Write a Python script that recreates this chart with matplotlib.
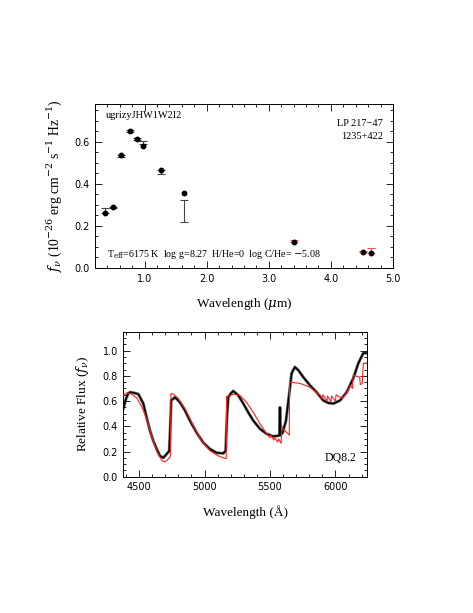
import numpy as np
import matplotlib
matplotlib.use("Agg")
import matplotlib.pyplot as plt
from matplotlib.ticker import MultipleLocator

# photometry (top panel)
phot_wl = [0.36, 0.49, 0.627, 0.762, 0.875, 0.973, 1.26, 1.64]
phot_obs = [0.274, 0.288, 0.533, 0.652, 0.615, 0.597, 0.456, 0.270]
phot_err = [0.011, 0.003, 0.006, 0.004, 0.005, 0.007, 0.009, 0.052]
phot_model = [0.261, 0.288, 0.539, 0.654, 0.616, 0.582, 0.468, 0.356]

ir_wl = [3.40, 4.52, 4.65]
ir_obs = [0.127, 0.080, 0.083]
ir_err = [0.004, 0.003, 0.011]
ir_model = [0.124, 0.075, 0.071]

# spectrum (bottom panel)
spec_wl = [4379, 4400, 4417, 4430, 4460, 4494, 4532, 4557, 4583, 4608, 4634, 4659,
           4685, 4710, 4730, 4738, 4745, 4774, 4812, 4850, 4888, 4939, 4990, 5041,
           5092, 5143, 5161, 5170, 5181, 5200, 5219, 5258, 5296, 5334, 5372, 5423,
           5474, 5525, 5563, 5572, 5576, 5580, 5597, 5622, 5647, 5665, 5690, 5716,
           5754, 5805, 5856, 5907, 5946, 5984, 6035, 6086, 6136, 6175, 6213, 6239]
spec_flux = [0.54, 0.62, 0.66, 0.67, 0.665, 0.655, 0.58, 0.47, 0.365, 0.285, 0.22, 0.165,
             0.15, 0.18, 0.205, 0.40, 0.605, 0.63, 0.59, 0.525, 0.445, 0.35, 0.27, 0.22,
             0.19, 0.185, 0.205, 0.45, 0.63, 0.66, 0.68, 0.645, 0.58, 0.51, 0.445, 0.38,
             0.34, 0.32, 0.325, 0.33, 0.55, 0.33, 0.35, 0.445, 0.66, 0.82, 0.87, 0.845,
             0.79, 0.725, 0.67, 0.605, 0.585, 0.58, 0.605, 0.67, 0.78, 0.90, 0.98, 0.98]

model_wl = [4379, 4405, 4443, 4481, 4519, 4557, 4595, 4634, 4672, 4697, 4723, 4735,
            4740, 4743, 4761, 4799, 4850, 4914, 4977, 5041, 5105, 5156, 5165, 5168,
            5199, 5219, 5270, 5321, 5372, 5423, 5474, 5500, 5505, 5530, 5535, 5560,
            5565, 5585, 5590, 5600, 5647, 5650, 5729, 5805, 5882, 5900, 5905, 5935,
            5940, 5965, 5970, 6000, 6005, 6050, 6086, 6116, 6130, 6136, 6185, 6190,
            6205, 6213, 6239]
model_flux = [0.645, 0.665, 0.655, 0.625, 0.557, 0.46, 0.325, 0.205, 0.13, 0.117, 0.14, 0.155,
              0.17, 0.66, 0.655, 0.62, 0.54, 0.405, 0.285, 0.205, 0.165, 0.145, 0.145, 0.637,
              0.645, 0.655, 0.645, 0.59, 0.51, 0.42, 0.34, 0.31, 0.33, 0.29, 0.31, 0.275,
              0.30, 0.265, 0.40, 0.38, 0.33, 0.75, 0.74, 0.71, 0.645, 0.62, 0.65, 0.60,
              0.64, 0.595, 0.64, 0.60, 0.65, 0.62, 0.665, 0.725, 0.70, 0.805, 0.79, 0.73,
              0.74, 0.90, 0.90]

serif = "Liberation Serif"
plt.rcParams["font.family"] = "DejaVu Sans"
plt.rcParams["mathtext.fontset"] = "dejavuserif"

fig = plt.figure(figsize=(4.73, 6.13), dpi=100)


def style_axes(ax):
    ax.tick_params(which="both", direction="in", top=True, right=True,
                   labelsize=7, width=0.6, pad=4)
    ax.tick_params(which="major", length=5)
    ax.tick_params(which="minor", length=2.5)
    for s in ax.spines.values():
        s.set_linewidth(0.7)


# top panel
ax1 = fig.add_axes([0.2008, 0.5628, 0.630, 0.2675])
ax1.errorbar(phot_wl, phot_obs, yerr=phot_err, fmt="none", ecolor="#444444",
             elinewidth=0.8, capsize=2.6, capthick=0.8, zorder=2)
ax1.errorbar(ir_wl, ir_obs, yerr=ir_err, fmt="none", ecolor="#ff5050",
             elinewidth=0.8, capsize=2.6, capthick=0.8, zorder=2)
ax1.plot(phot_wl, phot_model, "o", color="black", ms=3.2, zorder=3)
ax1.plot(ir_wl, ir_model, "o", color="black", ms=3.2, zorder=3)
ax1.set_xlim(0.2, 5.0)
ax1.set_ylim(0, 0.78)
ax1.xaxis.set_major_locator(MultipleLocator(1.0))
ax1.xaxis.set_minor_locator(MultipleLocator(0.2))
ax1.yaxis.set_major_locator(MultipleLocator(0.2))
ax1.yaxis.set_minor_locator(MultipleLocator(0.05))
ax1.xaxis.set_major_formatter(plt.FormatStrFormatter("%.1f"))
ax1.yaxis.set_major_formatter(plt.FormatStrFormatter("%.1f"))
style_axes(ax1)
ax1.set_xlabel(r"Wavelength ($\mu$m)", family=serif, fontsize=9.5, labelpad=9)
ax1.set_ylabel(r"$f_\nu$ (10$^{-26}$ erg cm$^{-2}$ s$^{-1}$ Hz$^{-1}$)",
               family=serif, fontsize=9.8, labelpad=7)
ax1.text(0.035, 0.93, "ugrizyJHW1W2I2", transform=ax1.transAxes,
         family=serif, fontsize=7.5, va="center", ha="left")
ax1.text(0.967, 0.88, "LP 217\u221247", transform=ax1.transAxes,
         family=serif, fontsize=7.5, va="center", ha="right")
ax1.text(0.967, 0.80, "1235+422", transform=ax1.transAxes,
         family=serif, fontsize=7.5, va="center", ha="right")
ax1.text(0.042, 0.085,
         r"T$_{\rm eff}$=6175 K  log g=8.27  H/He=0  log C/He= $-$5.08",
         transform=ax1.transAxes, family=serif, fontsize=7.2, va="center", ha="left")

# bottom panel
ax2 = fig.add_axes([0.2607, 0.2223, 0.5146, 0.2366])
ax2.plot(spec_wl, spec_flux, color="#777777", lw=2.2, zorder=1)
ax2.plot(spec_wl, spec_flux, color="black", lw=1.2, zorder=2)
ax2.plot(model_wl, model_flux, color="#ff2020", lw=0.8, zorder=3)
ax2.set_xlim(4379, 6239)
ax2.set_ylim(0, 1.15)
ax2.xaxis.set_major_locator(MultipleLocator(500))
ax2.xaxis.set_minor_locator(MultipleLocator(100))
ax2.yaxis.set_major_locator(MultipleLocator(0.2))
ax2.yaxis.set_minor_locator(MultipleLocator(0.05))
ax2.yaxis.set_major_formatter(plt.FormatStrFormatter("%.1f"))
style_axes(ax2)
ax2.set_xlabel("Wavelength (\u00c5)", family=serif, fontsize=9.5, labelpad=9)
ax2.set_ylabel(r"Relative Flux ($f_\nu$)", family=serif, fontsize=9.5, labelpad=8)
ax2.text(0.96, 0.13, "DQ8.2", transform=ax2.transAxes,
         family=serif, fontsize=8.5, va="center", ha="right")

fig.savefig("out.png", dpi=100)
